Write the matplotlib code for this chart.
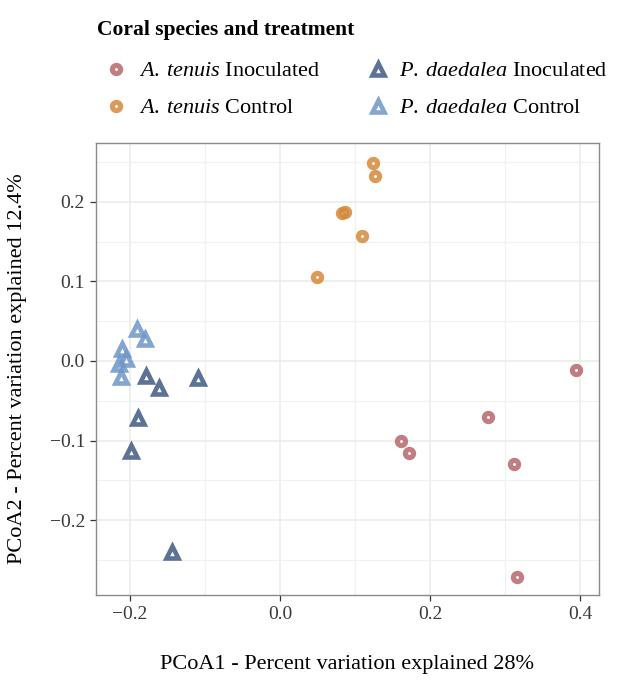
import matplotlib
matplotlib.use("Agg")
import matplotlib.pyplot as plt
from matplotlib.ticker import MultipleLocator
from matplotlib.lines import Line2D

plt.rcParams['font.family'] = ['Liberation Serif', 'DejaVu Serif']
plt.rcParams['mathtext.fontset'] = 'custom'
plt.rcParams['mathtext.rm'] = 'Liberation Serif'
plt.rcParams['mathtext.it'] = 'Liberation Serif:italic'

# PCoA coordinates
at_inoc_x = [0.394, 0.277, 0.161, 0.172, 0.312, 0.315]
at_inoc_y = [-0.011, -0.071, -0.101, -0.116, -0.130, -0.272]

at_ctrl_x = [0.124, 0.127, 0.083, 0.087, 0.109, 0.049]
at_ctrl_y = [0.248, 0.232, 0.186, 0.187, 0.157, 0.106]

pd_inoc_x = [-0.178, -0.161, -0.109, -0.189, -0.198, -0.144]
pd_inoc_y = [-0.019, -0.034, -0.022, -0.072, -0.113, -0.240]

pd_ctrl_x = [-0.190, -0.180, -0.210, -0.205, -0.215, -0.212]
pd_ctrl_y = [0.040, 0.027, 0.015, 0.003, -0.004, -0.020]

groups = [
    (r'$\it{A.\:tenuis}$ Inoculated', at_inoc_x, at_inoc_y, 'o', '#b5686d'),
    (r'$\it{A.\:tenuis}$ Control', at_ctrl_x, at_ctrl_y, 'o', '#d5893a'),
    (r'$\it{P.\:daedalea}$ Inoculated', pd_inoc_x, pd_inoc_y, '^', '#3f5a84'),
    (r'$\it{P.\:daedalea}$ Control', pd_ctrl_x, pd_ctrl_y, '^', '#6f95c8'),
]

W, H = 633, 680
fig = plt.figure(figsize=(W / 100, H / 100), dpi=100)
ax = fig.add_axes([0.1517, 0.125, 0.7938, 0.665])

# legend slots: marker x, text x, row y (pixels from top-left)
leg_slots = [(116, 139, 69), (116, 139, 106), (378, 399, 69), (378, 399, 106)]

def marker_style(mk):
    if mk == 'o':
        return 5.9, 3.7
    return 8.2, 3.3

for (label, xs, ys, mk, col), (mx, tx, ly) in zip(groups, leg_slots):
    ms, mew = marker_style(mk)
    ax.plot(xs, ys, linestyle='none', marker=mk, markersize=ms,
            markerfacecolor='none', markeredgecolor=col, markeredgewidth=mew,
            alpha=0.85, zorder=3)
    fig.add_artist(Line2D([mx / W], [1 - ly / H], transform=fig.transFigure,
                          linestyle='none', marker=mk, markersize=ms,
                          markerfacecolor='none', markeredgecolor=col,
                          markeredgewidth=mew, alpha=0.85))
    fig.text(tx / W, 1 - ly / H, label, fontsize=16,
             va='center_baseline', ha='left')

fig.text(97 / W, 1 - 27 / H, 'Coral species and treatment', fontsize=15.5,
         fontweight='bold', va='center_baseline', ha='left')

ax.set_xlim(-0.245, 0.424)
ax.set_ylim(-0.294, 0.274)
ax.xaxis.set_major_locator(MultipleLocator(0.2))
ax.xaxis.set_minor_locator(MultipleLocator(0.1))
ax.yaxis.set_major_locator(MultipleLocator(0.1))
ax.yaxis.set_minor_locator(MultipleLocator(0.05))
ax.xaxis.set_major_formatter(lambda v, p: f"{v:.1f}".replace('-', '\u2212'))
ax.yaxis.set_major_formatter(lambda v, p: f"{v:.1f}".replace('-', '\u2212'))

ax.grid(which='major', color='#ebebeb', linewidth=1.1, zorder=0)
ax.grid(which='minor', color='#f1f1f1', linewidth=0.9, zorder=0)
ax.set_axisbelow(True)
for s in ax.spines.values():
    s.set_color('#8a8a8a')
    s.set_linewidth(1.0)
ax.tick_params(which='major', length=4, width=0.9, color='#333333',
               labelsize=14, labelcolor='#3a3a3a', pad=4)
ax.tick_params(which='minor', length=0)

ax.set_xlabel('PCoA1 - Percent variation explained 28%', fontsize=16, labelpad=23)
ax.set_ylabel('PCoA2 - Percent variation explained 12.4%', fontsize=16, labelpad=16)

fig.savefig('out.png', dpi=100)
